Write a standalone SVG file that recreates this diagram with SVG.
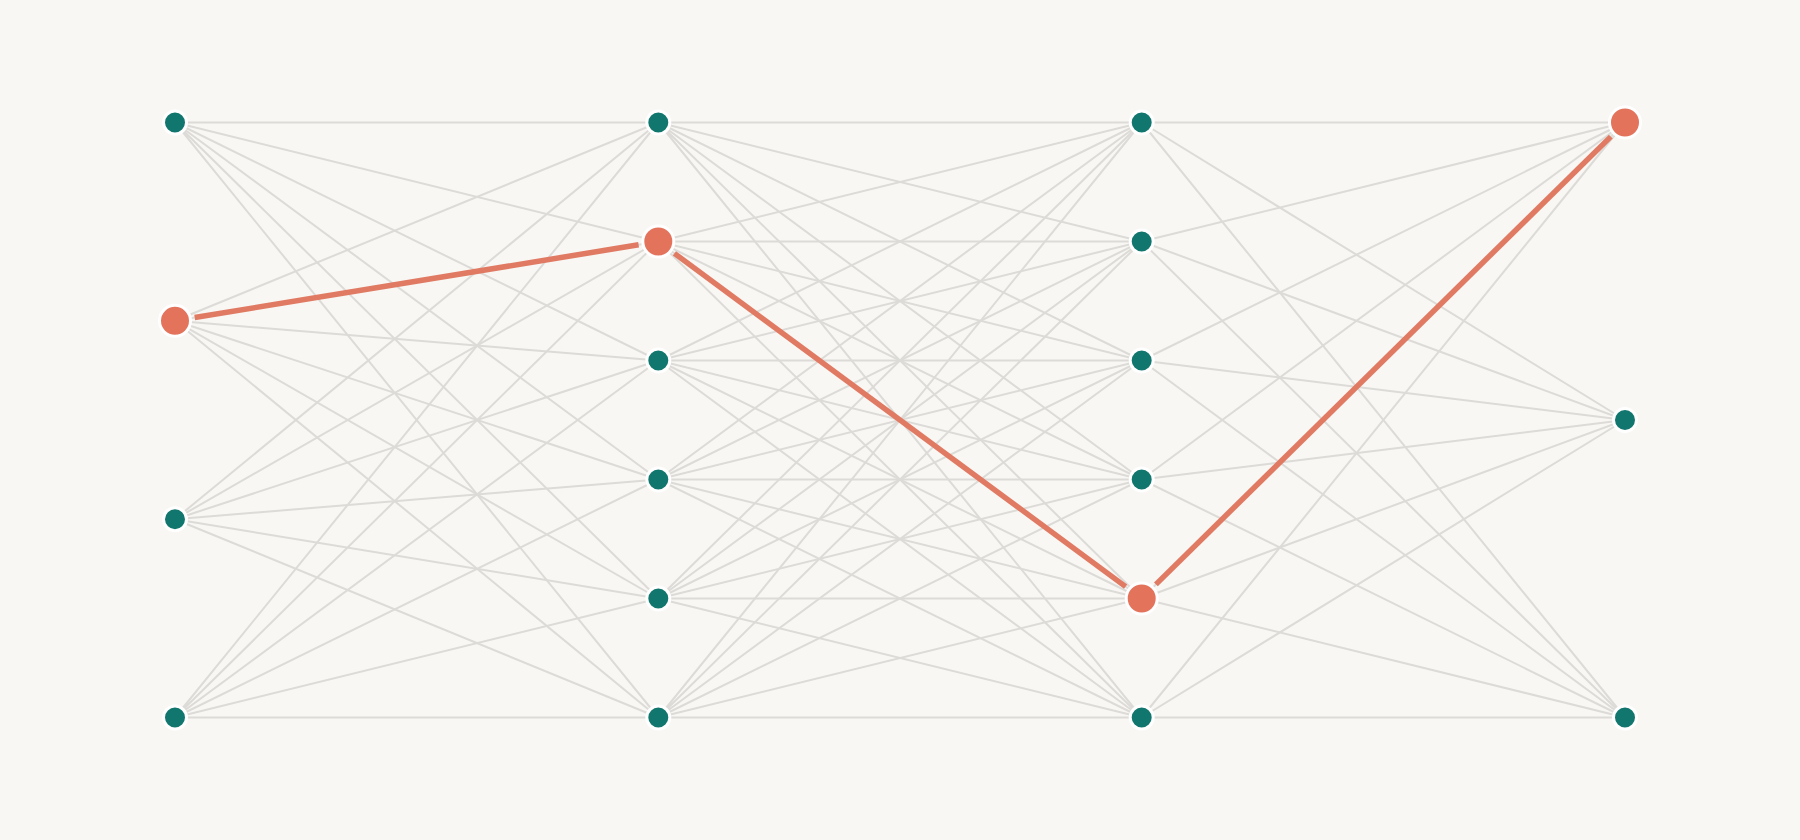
<svg xmlns="http://www.w3.org/2000/svg" width="1800" height="840" viewBox="0 0 1800 840">
<style>
.bg{fill:#f8f7f4}
.e{stroke:#dcdbd7;stroke-width:2;fill:none}
.h{stroke:#e07a63;stroke-width:5.5;fill:none}
.n{fill:#11766d;stroke:#ffffff;stroke-width:3}
.a{fill:#e4735c;stroke:#ffffff;stroke-width:3}
</style>
<rect class="bg" x="0" y="0" width="1800" height="840"/>
<g id="connectors">
<path class="e" d="M175 122.5L658.3 122.5M175 122.5L658.3 241.5M175 122.5L658.3 360.5M175 122.5L658.3 479.5M175 122.5L658.3 598.5M175 122.5L658.3 717.5"/>
<path class="e" d="M175 320.8L658.3 122.5M175 320.8L658.3 241.5M175 320.8L658.3 360.5M175 320.8L658.3 479.5M175 320.8L658.3 598.5M175 320.8L658.3 717.5"/>
<path class="e" d="M175 519.2L658.3 122.5M175 519.2L658.3 241.5M175 519.2L658.3 360.5M175 519.2L658.3 479.5M175 519.2L658.3 598.5M175 519.2L658.3 717.5"/>
<path class="e" d="M175 717.5L658.3 122.5M175 717.5L658.3 241.5M175 717.5L658.3 360.5M175 717.5L658.3 479.5M175 717.5L658.3 598.5M175 717.5L658.3 717.5"/>
<path class="e" d="M658.3 122.5L1141.7 122.5M658.3 122.5L1141.7 241.5M658.3 122.5L1141.7 360.5M658.3 122.5L1141.7 479.5M658.3 122.5L1141.7 598.5M658.3 122.5L1141.7 717.5"/>
<path class="e" d="M658.3 241.5L1141.7 122.5M658.3 241.5L1141.7 241.5M658.3 241.5L1141.7 360.5M658.3 241.5L1141.7 479.5M658.3 241.5L1141.7 598.5M658.3 241.5L1141.7 717.5"/>
<path class="e" d="M658.3 360.5L1141.7 122.5M658.3 360.5L1141.7 241.5M658.3 360.5L1141.7 360.5M658.3 360.5L1141.7 479.5M658.3 360.5L1141.7 598.5M658.3 360.5L1141.7 717.5"/>
<path class="e" d="M658.3 479.5L1141.7 122.5M658.3 479.5L1141.7 241.5M658.3 479.5L1141.7 360.5M658.3 479.5L1141.7 479.5M658.3 479.5L1141.7 598.5M658.3 479.5L1141.7 717.5"/>
<path class="e" d="M658.3 598.5L1141.7 122.5M658.3 598.5L1141.7 241.5M658.3 598.5L1141.7 360.5M658.3 598.5L1141.7 479.5M658.3 598.5L1141.7 598.5M658.3 598.5L1141.7 717.5"/>
<path class="e" d="M658.3 717.5L1141.7 122.5M658.3 717.5L1141.7 241.5M658.3 717.5L1141.7 360.5M658.3 717.5L1141.7 479.5M658.3 717.5L1141.7 598.5M658.3 717.5L1141.7 717.5"/>
<path class="e" d="M1141.7 122.5L1625 122.5M1141.7 122.5L1625 420M1141.7 122.5L1625 717.5"/>
<path class="e" d="M1141.7 241.5L1625 122.5M1141.7 241.5L1625 420M1141.7 241.5L1625 717.5"/>
<path class="e" d="M1141.7 360.5L1625 122.5M1141.7 360.5L1625 420M1141.7 360.5L1625 717.5"/>
<path class="e" d="M1141.7 479.5L1625 122.5M1141.7 479.5L1625 420M1141.7 479.5L1625 717.5"/>
<path class="e" d="M1141.7 598.5L1625 122.5M1141.7 598.5L1625 420M1141.7 598.5L1625 717.5"/>
<path class="e" d="M1141.7 717.5L1625 122.5M1141.7 717.5L1625 420M1141.7 717.5L1625 717.5"/>
<line class="h" x1="194.7" y1="317.5" x2="638.6" y2="244.8"/>
<line class="h" x1="674.4" y1="253.4" x2="1125.6" y2="586.6"/>
<line class="h" x1="1155.9" y1="584.4" x2="1610.8" y2="136.6"/>
</g>
<g id="layer1">
<circle id="n1-1" class="n" cx="175" cy="122.5" r="11.5"/>
<circle id="n1-2" class="a" cx="175" cy="320.8" r="15.5"/>
<circle id="n1-3" class="n" cx="175" cy="519.2" r="11.5"/>
<circle id="n1-4" class="n" cx="175" cy="717.5" r="11.5"/>
</g>
<g id="layer2">
<circle id="n2-1" class="n" cx="658.3" cy="122.5" r="11.5"/>
<circle id="n2-2" class="a" cx="658.3" cy="241.5" r="15.5"/>
<circle id="n2-3" class="n" cx="658.3" cy="360.5" r="11.5"/>
<circle id="n2-4" class="n" cx="658.3" cy="479.5" r="11.5"/>
<circle id="n2-5" class="n" cx="658.3" cy="598.5" r="11.5"/>
<circle id="n2-6" class="n" cx="658.3" cy="717.5" r="11.5"/>
</g>
<g id="layer3">
<circle id="n3-1" class="n" cx="1141.7" cy="122.5" r="11.5"/>
<circle id="n3-2" class="n" cx="1141.7" cy="241.5" r="11.5"/>
<circle id="n3-3" class="n" cx="1141.7" cy="360.5" r="11.5"/>
<circle id="n3-4" class="n" cx="1141.7" cy="479.5" r="11.5"/>
<circle id="n3-5" class="a" cx="1141.7" cy="598.5" r="15.5"/>
<circle id="n3-6" class="n" cx="1141.7" cy="717.5" r="11.5"/>
</g>
<g id="layer4">
<circle id="n4-1" class="a" cx="1625" cy="122.5" r="15.5"/>
<circle id="n4-2" class="n" cx="1625" cy="420" r="11.5"/>
<circle id="n4-3" class="n" cx="1625" cy="717.5" r="11.5"/>
</g>
</svg>
